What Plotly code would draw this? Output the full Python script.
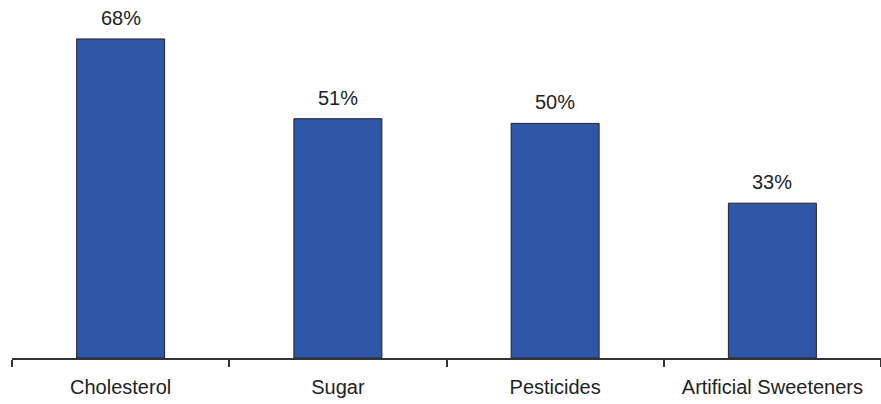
import plotly.graph_objects as go

categories = ["Cholesterol", "Sugar", "Pesticides", "Artificial Sweeteners"]
shares = [68, 51, 50, 33]
share_labels = [f"{v}%" for v in shares]

bar_color = "#3056A8"
ink = "#222222"
font_family = "Liberation Sans, Arial, sans-serif"

fig = go.Figure(
    go.Bar(
        x=categories,
        y=shares,
        marker=dict(color=bar_color, line=dict(color=ink, width=1)),
        width=0.405,
        hoverinfo="skip",
    )
)

# value labels above each bar
for cat, val, lab in zip(categories, shares, share_labels):
    fig.add_annotation(
        x=cat, y=val, text=lab, showarrow=False,
        yanchor="bottom", yshift=8,
        font=dict(family=font_family, size=20, color=ink),
    )

fig.update_layout(
    width=881, height=404,
    margin=dict(l=12, r=0, t=0, b=46),
    paper_bgcolor="white", plot_bgcolor="white",
    showlegend=False,
    font=dict(family=font_family, size=20, color=ink),
)
fig.update_xaxes(
    type="category", range=[-0.5, 3.5],
    showline=True, linecolor="#333333", linewidth=1.5,
    ticks="outside", tickson="boundaries", ticklen=7, tickcolor="#333333", tickwidth=1.5,
    showgrid=False, ticklabelstandoff=10,
    tickfont=dict(family=font_family, size=20, color=ink),
)
fig.update_yaxes(range=[0, 76.3], visible=False, showgrid=False, zeroline=False)

fig.write_html("out.html")
